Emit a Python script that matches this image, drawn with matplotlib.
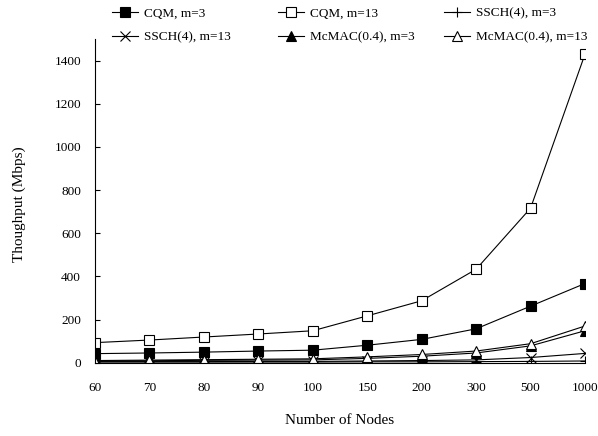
import matplotlib.pyplot as plt

plt.rcParams['font.family'] = ['Liberation Serif', 'DejaVu Serif']
plt.rcParams['font.size'] = 9.5

# Number of nodes (categorical x axis)
nodes = ['60', '70', '80', '90', '100', '150', '200', '300', '500', '1000']

# Throughput in Mbps
cqm_m3 = [42, 45, 49, 54, 58, 81, 108, 157, 262, 367]
cqm_m13 = [93, 105, 119, 133, 148, 217, 287, 433, 716, 1430]
ssch_m3 = [3, 3, 3, 3, 3, 4, 4, 5, 6, 8]
ssch_m13 = [5, 5, 5, 6, 6, 8, 10, 13, 24, 43]
mcmac_m3 = [8, 9, 11, 12, 13, 20, 30, 45, 78, 148]
mcmac_m13 = [10, 12, 14, 16, 18, 27, 38, 54, 88, 170]

fig = plt.figure(figsize=(5.98, 4.36), dpi=100)
ax = fig.add_axes([95 / 598, 1 - 362.7 / 436, 490 / 598, (362.7 - 39) / 436])

x = range(len(nodes))
kw = dict(color='black', linewidth=0.8, markersize=7, markeredgewidth=0.8)
l1, = ax.plot(x, cqm_m3, marker='s', markerfacecolor='black', label='CQM, m=3', **kw)
l2, = ax.plot(x, cqm_m13, marker='s', markerfacecolor='white', label='CQM, m=13', **kw)
l3, = ax.plot(x, ssch_m3, marker='+', label='SSCH(4), m=3', **kw)
l4, = ax.plot(x, ssch_m13, marker='x', label='SSCH(4), m=13', **kw)
l5, = ax.plot(x, mcmac_m3, marker='^', markerfacecolor='black', label='McMAC(0.4), m=3', **kw)
l6, = ax.plot(x, mcmac_m13, marker='^', markerfacecolor='white', label='McMAC(0.4), m=13', **kw)

ax.set_xlim(0, len(nodes) - 1)
ax.set_ylim(0, 1500)
ax.set_xticks(list(x))
ax.set_xticklabels(nodes)
ax.set_yticks(range(0, 1401, 200))
ax.tick_params(axis='x', length=0, pad=14)
ax.tick_params(axis='y', direction='in', length=3.6, width=0.8, pad=10)
for side in ['top', 'right']:
    ax.spines[side].set_visible(False)
for side in ['left', 'bottom']:
    ax.spines[side].set_linewidth(0.8)

fig.text(340 / 598, 1 - 420 / 436, 'Number of Nodes', ha='center', va='center', fontsize=11)
fig.text(19 / 598, 1 - 204 / 436, 'Thoughput (Mbps)', rotation=90, ha='center', va='center',
         fontsize=11)

# legend laid out as three columns of two entries
columns = [[l1, l4], [l2, l5], [l3, l6]]
xs = [112, 278, 444]
for handles, x0 in zip(columns, xs):
    fig.legend(handles=handles, loc='upper left', bbox_to_anchor=(x0 / 598, 1 - 7 / 436),
               frameon=False, handlelength=2.0, handletextpad=0.4, labelspacing=0.9,
               borderaxespad=0, borderpad=0)

fig.savefig('out.png', dpi=100)
